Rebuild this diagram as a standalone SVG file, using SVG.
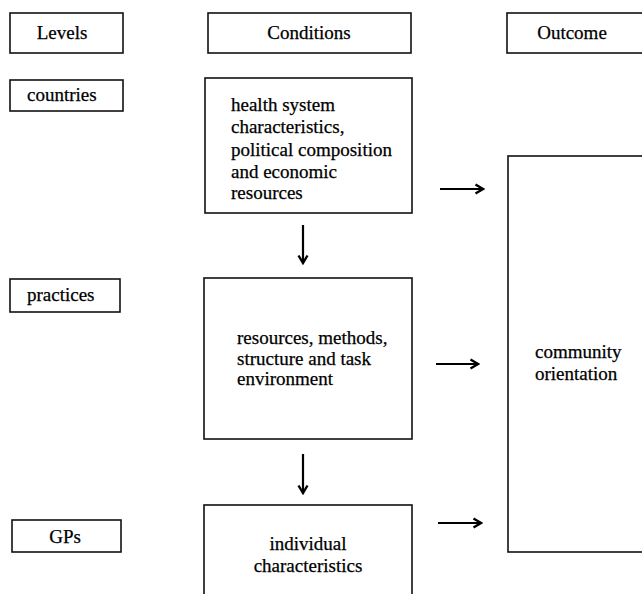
<svg xmlns="http://www.w3.org/2000/svg" width="642" height="594" viewBox="0 0 642 594">
<style>
rect{fill:#fff;stroke:#111;stroke-width:1.6}
text{font-family:"Liberation Serif","Times New Roman",serif;font-size:19px;fill:#000;stroke:#000;stroke-width:0.25}
.c{text-anchor:middle}
.arr{stroke:#000;stroke-width:2.2;fill:none}
</style>
<defs>
<marker id="ah" viewBox="0 0 12 12" refX="10.5" refY="6" markerWidth="12" markerHeight="12" markerUnits="userSpaceOnUse" orient="auto">
<path d="M3,1.5 L10.5,6 L3,10.5" fill="none" stroke="#000" stroke-width="2.4"/>
</marker>
</defs>
<rect width="642" height="594" style="fill:#fff;stroke:none"/>
<g id="levels"><rect x="10" y="13" width="113" height="40"/><text x="62" y="39" class="c">Levels</text></g>
<g id="conditions"><rect x="208" y="13" width="203" height="40"/><text x="309" y="39" class="c">Conditions</text></g>
<g id="outcome"><rect x="507" y="13" width="140" height="40"/><text x="572" y="39" class="c">Outcome</text></g>
<g id="countries"><rect x="10" y="80" width="113" height="31"/><text x="27" y="101">countries</text></g>
<g id="practices"><rect x="10" y="279" width="110" height="33"/><text x="27" y="301">practices</text></g>
<g id="gps"><rect x="12" y="520" width="109" height="32"/><text x="65" y="543" class="c">GPs</text></g>
<g id="health"><rect x="205" y="78" width="207" height="135"/>
<text x="231"><tspan x="231" y="111">health system</tspan><tspan x="231" y="133">characteristics,</tspan><tspan x="231" y="156">political composition</tspan><tspan x="231" y="178">and economic</tspan><tspan x="231" y="199">resources</tspan></text></g>
<g id="resources"><rect x="204" y="278" width="208" height="161"/>
<text x="237"><tspan x="237" y="344">resources, methods,</tspan><tspan x="237" y="365">structure and task</tspan><tspan x="237" y="385">environment</tspan></text></g>
<g id="individual"><rect x="204" y="505" width="208" height="100"/>
<text class="c"><tspan x="308" y="550">individual</tspan><tspan x="308" y="572">characteristics</tspan></text></g>
<g id="community"><rect x="508" y="156" width="140" height="396"/>
<text x="535"><tspan x="535" y="358">community</tspan><tspan x="535" y="380">orientation</tspan></text></g>
<g id="connectors">
<line class="arr" x1="440" y1="189" x2="483" y2="189" marker-end="url(#ah)"/>
<line class="arr" x1="436" y1="364" x2="478" y2="364" marker-end="url(#ah)"/>
<line class="arr" x1="438" y1="523" x2="481" y2="523" marker-end="url(#ah)"/>
<line class="arr" x1="303" y1="225" x2="303" y2="263" marker-end="url(#ah)"/>
<line class="arr" x1="303" y1="454" x2="303" y2="493" marker-end="url(#ah)"/>
</g>
</svg>
